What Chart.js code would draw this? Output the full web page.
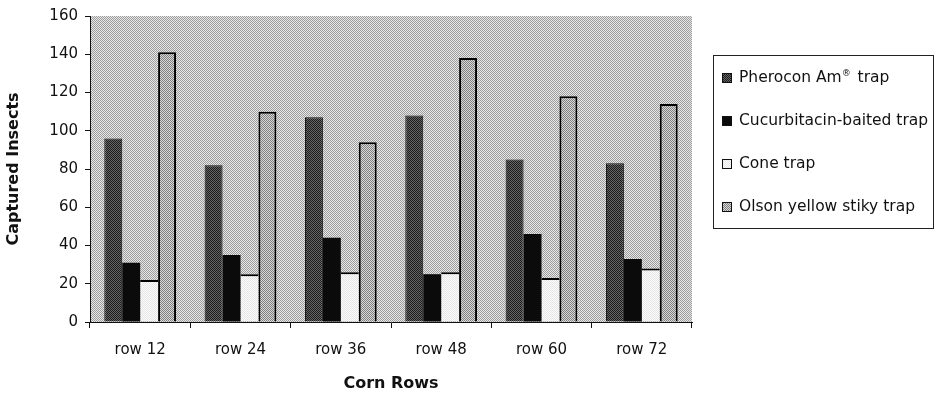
<!DOCTYPE html>
<html>
<head>
<meta charset="utf-8">
<script src="https://cdn.jsdelivr.net/npm/chart.js@4.4.1/dist/chart.umd.min.js"></script>
<style>
  html, body { margin: 0; padding: 0; background: #ffffff; }
  canvas { display: block; }
</style>
</head>
<body>
<canvas id="chart" width="943" height="396"></canvas>
<script>
// Captured insects per trap type across corn rows
const cornRows = ['row 12', 'row 24', 'row 36', 'row 48', 'row 60', 'row 72'];
const trapNames = ['Pherocon Am® trap', 'Cucurbitacin-baited trap', 'Cone trap', 'Olson yellow stiky trap'];
const pheroconAm = [96, 82, 107, 108, 85, 83];
const cucurbitacin = [31, 35, 44, 25, 46, 33];
const coneTrap = [22, 25, 26, 26, 23, 28];
const olsonYellow = [141, 110, 94, 138, 118, 114];
const yTicks = [0, 20, 40, 60, 80, 100, 120, 140, 160];

// Small halftone tiles used as fills
function checker(a, b) {
  const c = document.createElement('canvas');
  c.width = 2; c.height = 2;
  const x = c.getContext('2d');
  x.fillStyle = b; x.fillRect(0, 0, 2, 2);
  x.fillStyle = a; x.fillRect(0, 0, 1, 1); x.fillRect(1, 1, 1, 1);
  return x.createPattern(c, 'repeat');
}
const ctx = document.getElementById('chart').getContext('2d');
const fills = {
  plot: checker('#9c9c9c', '#e8e8e8'),
  pherocon: checker('#1c1c1c', '#666666'),
  cucurbitacin: '#0b0b0b',
  cone: checker('#e6e6e6', '#fbfbfb'),
  olson: checker('#808080', '#d8d8d8')
};

const FONT = "'DejaVu Sans', sans-serif";
const INK = '#111111';

// Shaded plot area behind the bars
const plotBackground = {
  id: 'plotBackground',
  beforeDraw(chart) {
    const a = chart.chartArea, c = chart.ctx;
    c.save();
    c.fillStyle = fills.plot;
    c.fillRect(a.left, a.top, a.right - a.left, a.bottom - a.top);
    c.restore();
  }
};

// Boxed legend to the right of the plot
const boxedLegend = {
  id: 'boxedLegend',
  afterDraw(chart) {
    const c = chart.ctx;
    const box = { x: 713.5, y: 55.5, w: 220, h: 173 };
    const font = '15.5px ' + FONT;
    c.save();
    c.strokeStyle = '#222';
    c.lineWidth = 1;
    c.strokeRect(box.x, box.y, box.w, box.h);
    c.textBaseline = 'middle';
    chart.data.datasets.forEach((ds, i) => {
      const cy = 78 + i * 43;
      c.fillStyle = ds.backgroundColor;
      c.fillRect(722, cy - 5, 10, 10);
      c.strokeStyle = '#111';
      c.strokeRect(722.5, cy - 4.5, 9, 9);
      c.fillStyle = INK;
      const parts = ds.label.split('®');
      let x = 739;
      c.font = font;
      c.fillText(parts[0], x, cy);
      x += c.measureText(parts[0]).width;
      if (parts.length > 1) {
        c.font = '9px ' + FONT;
        c.fillText('®', x, cy - 4);
        x += c.measureText('®').width + 2;
        c.font = font;
        c.fillText(parts[1], x, cy);
      }
    });
    c.restore();
  }
};

new Chart(ctx, {
  type: 'bar',
  data: {
    labels: cornRows,
    datasets: [
      { label: trapNames[0], data: pheroconAm, backgroundColor: fills.pherocon,
        borderColor: '#111', borderWidth: 1 },
      { label: trapNames[1], data: cucurbitacin, backgroundColor: fills.cucurbitacin,
        borderColor: '#000', borderWidth: 0 },
      { label: trapNames[2], data: coneTrap, backgroundColor: fills.cone,
        borderColor: '#000', borderWidth: { top: 2, left: 0, right: 0, bottom: 0 } },
      { label: trapNames[3], data: olsonYellow, backgroundColor: fills.olson,
        borderColor: '#000', borderWidth: 2 }
    ]
  },
  options: {
    responsive: false,
    animation: false,
    layout: { padding: { left: 0, top: 15, right: 251, bottom: 0 } },
    datasets: { bar: { categoryPercentage: 0.715, barPercentage: 1.0 } },
    plugins: { legend: { display: false }, tooltip: { enabled: false } },
    scales: {
      x: {
        offset: true,
        grid: { offset: true, drawOnChartArea: false, drawTicks: true, tickLength: 6, color: '#111' },
        border: { display: true, color: '#111', width: 1 },
        ticks: { font: { family: FONT, size: 15 }, color: INK, padding: 13, maxRotation: 0 },
        title: { display: true, text: 'Corn Rows', color: INK,
                 font: { family: FONT, size: 16, weight: 'bold' }, padding: { top: 0, bottom: 3 } },
        afterFit(scale) { scale.height = 74; }
      },
      y: {
        min: yTicks[0],
        max: yTicks[yTicks.length - 1],
        afterBuildTicks(scale) { scale.ticks = yTicks.map(v => ({ value: v })); },
        grid: { drawOnChartArea: false, drawTicks: true, tickLength: 5, color: '#111' },
        border: { display: true, color: '#111', width: 1 },
        ticks: { font: { family: FONT, size: 15 }, color: INK, padding: 7 },
        title: { display: true, text: 'Captured Insects', color: INK,
                 font: { family: FONT, size: 16, weight: 'bold' }, padding: { top: 4, bottom: 0 } },
        afterFit(scale) { scale.width = 90; }
      }
    }
  },
  plugins: [plotBackground, boxedLegend]
});
</script>
</body>
</html>
